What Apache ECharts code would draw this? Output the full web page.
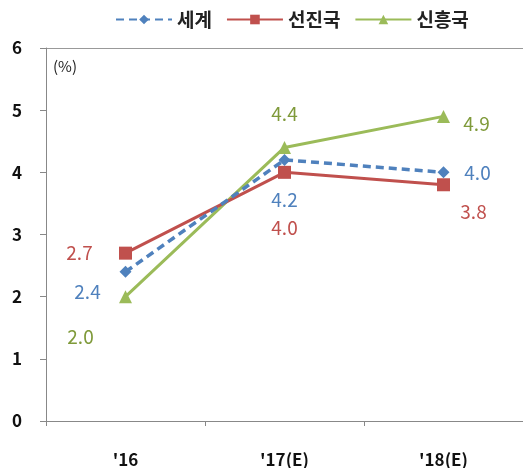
<!DOCTYPE html>
<html>
<head>
<meta charset="utf-8">
<script src="https://cdn.jsdelivr.net/npm/echarts@6/dist/echarts.min.js"></script>
<style>
  html, body { margin: 0; padding: 0; background: #fff; }
  #chart { width: 523px; height: 468px; }
</style>
</head>
<body>
<div id="chart"></div>
<script>
// Growth rate outlook (%)
const categories = ["'16", "'17(E)", "'18(E)"];
const world = [2.4, 4.2, 4.0];
const advanced = [2.7, 4.0, 3.8];
const emerging = [2.0, 4.4, 4.9];
const yTicks = [0, 1, 2, 3, 4, 5, 6];

const FONT = '"Noto Sans CJK KR", "Noto Sans", sans-serif';
const BLUE = '#4F81BD', RED = '#C0504D', GREEN = '#9BBB59';

// value labels centred on each point, shifted by [dx, dy]
function labelled(values, shifts, color) {
  return values.map((v, i) => ({
    value: v,
    label: {
      show: true,
      position: 'inside',
      offset: shifts[i],
      color: color,
      fontSize: 19,
      fontFamily: FONT,
      formatter: (p) => p.value.toFixed(1)
    }
  }));
}

const chart = echarts.init(document.getElementById('chart'));
chart.setOption({
  animation: false,
  backgroundColor: '#fff',
  grid: { left: 46, right: -3, top: 48, bottom: 47, containLabel: false },
  legend: {
    top: 5,
    left: 110,
    itemWidth: 56,
    itemHeight: 12,
    itemGap: 14,
    textStyle: { fontSize: 19, fontWeight: 'bold', fontFamily: FONT, color: '#222' },
    data: ['세계', '선진국', '신흥국']
  },
  xAxis: {
    type: 'category',
    data: categories,
    boundaryGap: true,
    axisLine: { lineStyle: { color: '#888', width: 1 } },
    axisTick: { show: true, length: 5, lineStyle: { color: '#888' } },
    axisLabel: { margin: 30, fontSize: 17, fontWeight: 'bold', fontFamily: FONT, color: '#111' }
  },
  yAxis: {
    type: 'value',
    min: yTicks[0],
    max: yTicks[yTicks.length - 1],
    interval: 1,
    axisLine: { show: true, lineStyle: { color: '#888', width: 1 } },
    axisTick: { show: true, length: 6, lineStyle: { color: '#888' } },
    axisLabel: { margin: 24, fontSize: 17, fontWeight: 'bold', fontFamily: FONT, color: '#111' },
    splitLine: {
      show: true,
      lineStyle: { color: ['transparent', 'transparent', 'transparent', 'transparent', 'transparent', 'transparent', '#999'] }
    }
  },
  graphic: [{
    type: 'text',
    left: 53, top: 59,
    style: { text: '(%)', fontSize: 15, fontFamily: FONT, fill: '#222' }
  }],
  series: [
    {
      name: '세계',
      type: 'line',
      data: labelled(world, [[-38, 20], [0, 40], [34, 0]], BLUE),
      color: BLUE,
      symbol: 'diamond',
      symbolSize: 12,
      lineStyle: { width: 3.5, type: [8, 5], color: BLUE },
      itemStyle: { color: BLUE },
      z: 4
    },
    {
      name: '선진국',
      type: 'line',
      data: labelled(advanced, [[-46, 0], [0, 55], [30, 27]], RED),
      color: RED,
      symbol: 'rect',
      symbolSize: 13,
      lineStyle: { width: 3, color: RED },
      itemStyle: { color: RED },
      z: 3
    },
    {
      name: '신흥국',
      type: 'line',
      data: labelled(emerging, [[-45, 40], [0, -34], [33, 7]], '#7F9A3A'),
      color: GREEN,
      symbol: 'triangle',
      symbolSize: 13,
      lineStyle: { width: 3, color: GREEN },
      itemStyle: { color: GREEN },
      z: 2
    }
  ]
});
</script>
</body>
</html>
